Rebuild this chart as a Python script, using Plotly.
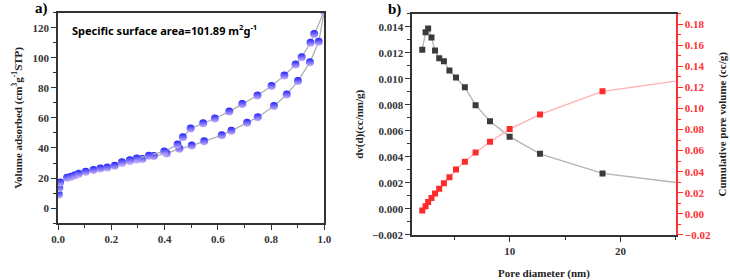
import plotly.graph_objects as go

# ---- Panel a) N2 isotherm ----
ads_p = [0.003, 0.005, 0.008, 0.034, 0.049, 0.064, 0.078, 0.104, 0.133, 0.159, 0.185, 0.213,
         0.240, 0.270, 0.296, 0.317, 0.360, 0.408, 0.456, 0.502, 0.549, 0.615, 0.651, 0.710,
         0.750, 0.811, 0.859, 0.901, 0.946, 0.979, 1.0]
ads_v = [9.0, 13.3, 17.0, 20.2, 20.9, 21.8, 22.9, 24.2, 25.3, 26.3, 27.0, 28.1,
         30.0, 31.4, 32.3, 32.7, 34.6, 36.4, 39.4, 41.6, 44.4, 48.5, 51.4, 56.8,
         60.5, 67.9, 75.6, 84.5, 97.1, 110.6, 131.0]
des_p = [1.0, 0.962, 0.948, 0.915, 0.892, 0.850, 0.802, 0.749, 0.692, 0.643, 0.589, 0.545,
         0.498, 0.469, 0.449, 0.399, 0.341, 0.296, 0.270, 0.240]
des_v = [131.0, 115.8, 110.0, 100.4, 95.6, 88.2, 81.2, 74.9, 69.2, 64.2, 59.6, 56.4,
         52.9, 47.1, 42.3, 37.7, 34.8, 33.0, 31.8, 30.5]

# ---- Panel b) pore size distribution ----
pore_d = [2.12, 2.42, 2.65, 2.95, 3.27, 3.65, 4.07, 4.57, 5.16, 5.96, 6.93, 8.23, 10.0, 12.74, 18.38, 26.0]
dvd = [0.01223, 0.01357, 0.01387, 0.01317, 0.01218, 0.01158, 0.01135, 0.01064, 0.01009,
       0.00935, 0.00797, 0.00673, 0.00555, 0.00423, 0.00272, 0.00192]
cum_v = [0.0031, 0.0071, 0.0111, 0.0151, 0.0192, 0.0238, 0.0290, 0.0346, 0.0420, 0.0494,
         0.0582, 0.0684, 0.0804, 0.0944, 0.1163, 0.1274]

SERIF = "Liberation Serif"
AX = "#333333"

fig = go.Figure()

iso_marker = dict(symbol="circle", size=8, color="#2020ff",
                  gradient=dict(type="vertical", color="#c8b4f8"),
                  line=dict(width=0))
fig.add_trace(go.Scatter(x=ads_p, y=ads_v, mode="lines+markers", xaxis="x", yaxis="y",
                         line=dict(color="#b0b0b0", width=1.3), marker=iso_marker, showlegend=False))
fig.add_trace(go.Scatter(x=des_p, y=des_v, mode="lines+markers", xaxis="x", yaxis="y",
                         line=dict(color="#b0b0b0", width=1.3), marker=iso_marker, showlegend=False))

fig.add_trace(go.Scatter(x=pore_d, y=dvd, mode="lines+markers", xaxis="x2", yaxis="y2",
                         line=dict(color="#b4b4b4", width=1.3),
                         marker=dict(symbol="square", size=6, color="#3a3a3a"), showlegend=False))
fig.add_trace(go.Scatter(x=pore_d, y=cum_v, mode="lines+markers", xaxis="x2", yaxis="y3",
                         line=dict(color="#ffb0b0", width=1.3),
                         marker=dict(symbol="square", size=6, color="#ff2a2a"), showlegend=False))

tf = dict(family=SERIF, size=11, color=AX, weight=700)
minor_common = dict(ticks="outside", ticklen=3, tickcolor=AX)
title_font = dict(family=SERIF, size=11, color="#222", weight=700)

fig.update_layout(
    width=730, height=280, margin=dict(l=0, r=0, t=0, b=0),
    paper_bgcolor="white", plot_bgcolor="white",
    xaxis=dict(domain=[52/730, 323.5/730], range=[0, 1.0], dtick=0.2, tickformat=".1f",
               showgrid=False, zeroline=False, showline=True, linecolor=AX, linewidth=1.5,
               mirror=True, ticks="outside", ticklen=5, tickcolor=AX, tickfont=tf,
               minor=dict(dtick=0.1, **minor_common), anchor="y"),
    yaxis=dict(domain=[52/280, 267/280], range=[-10, 130], dtick=20,
               showgrid=False, zeroline=False, showline=True, linecolor=AX, linewidth=1.5,
               mirror=True, ticks="outside", ticklen=5, tickcolor=AX, tickfont=tf,
               minor=dict(dtick=10, **minor_common), anchor="x",
               title=dict(text="Volume adsorbed (cm<sup>3</sup>g<sup>-1</sup>STP)",
                          font=title_font, standoff=8)),
    xaxis2=dict(domain=[413/730, 682/730], range=[1.2, 25], dtick=10, tick0=0,
                showgrid=False, zeroline=False, showline=True, linecolor=AX, linewidth=1.5,
                mirror=True, ticks="outside", ticklen=5, tickcolor=AX, tickfont=tf,
                minor=dict(dtick=5, **minor_common), anchor="y2",
                title=dict(text="Pore diameter (nm)", font=title_font, standoff=14)),
    yaxis2=dict(domain=[40/280, 266/280], range=[-0.002, 0.015], dtick=0.002, tickformat=".3f",
                showgrid=False, zeroline=False, showline=True, linecolor=AX, linewidth=1.5,
                ticks="outside", ticklen=5, tickcolor=AX, tickfont=tf,
                minor=dict(dtick=0.001, **minor_common), anchor="x2",
                title=dict(text="dv(d)(cc/nm/g)", font=title_font, standoff=6)),
    yaxis3=dict(range=[-0.02, 0.19], dtick=0.02, tickformat=".2f", overlaying="y2", side="right",
                anchor="x2", showgrid=False, zeroline=False, showline=True, linecolor="#ff3030",
                linewidth=1.5, ticks="outside", ticklen=5, tickcolor="#ff3030",
                tickfont=dict(family=SERIF, size=11, color="#ff3030", weight=700),
                minor=dict(dtick=0.01, ticks="outside", ticklen=3, tickcolor="#ff3030"),
                title=dict(text="Cumulative pore volume (cc/g)", font=title_font, standoff=8)),
    annotations=[
        dict(text="Specific surface area=101.89 m<sup>2</sup>g<sup>-1</sup>", xref="paper", yref="paper",
             x=64/730, y=1-31/280, xanchor="left", yanchor="middle", showarrow=False,
             font=dict(family="Noto Sans", size=11, color="black", weight=700)),
        dict(text="a)", xref="paper", yref="paper", x=26/730, y=1-9/280, xanchor="left", yanchor="middle",
             showarrow=False, font=dict(family=SERIF, size=15, color="black", weight=700)),
        dict(text="b)", xref="paper", yref="paper", x=386/730, y=1-10/280, xanchor="left", yanchor="middle",
             showarrow=False, font=dict(family=SERIF, size=15, color="black", weight=700)),
    ],
)

fig.write_html("out.html")
